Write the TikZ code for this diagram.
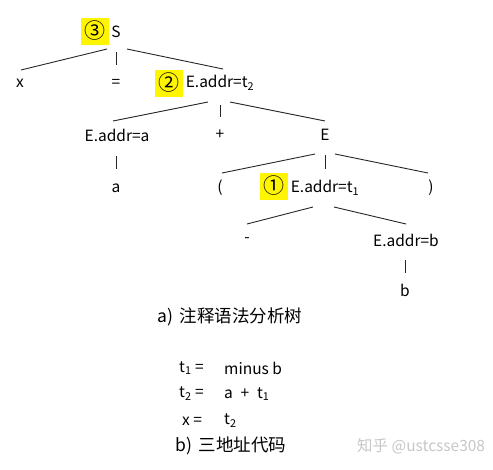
\documentclass[tikz,border=0pt]{standalone}
\usepackage{fontspec}
\setmainfont{Noto Sans CJK SC}
\usetikzlibrary{calc}
\definecolor{hlyellow}{RGB}{255,245,0}
\newcommand{\sub}[1]{\textsubscript{#1}}
\begin{document}
\begin{tikzpicture}[x=1pt,y=-1pt,
  lbl/.style={inner sep=0pt,font=\fontsize{15.5pt}{18pt}\selectfont},
  cjk/.style={inner sep=0pt,font=\fontsize{17.5pt}{20pt}\selectfont},
  hl/.style={fill=hlyellow,minimum width=28pt,minimum height=27pt,inner sep=0pt,font=\fontsize{21pt}{22pt}\selectfont},
  ln/.style={line width=0.9pt,black!85}]
\useasboundingbox (0,0) rectangle (493,469);
% tree nodes
\node[hl] (h3) at (95,31) {③};
\node[lbl] (S) at (116,32) {S};
\node[lbl] (x) at (20,83) {x};
\node[lbl] (eq) at (116,83) {=};
\node[hl] (h2) at (169,83) {②};
\node[lbl] (E2) at (220,83) {E.addr=t\sub{2}};
\node[lbl] (Ea) at (117,135) {E.addr=a};
\node[lbl] (plus) at (220,135) {+};
\node[lbl] (E) at (325,135) {E};
\node[lbl] (a) at (116,188) {a};
\node[lbl] (lp) at (220,188) {(};
\node[hl] (h1) at (274,186) {①};
\node[lbl] (E1) at (325,188) {E.addr=t\sub{1}};
\node[lbl] (rp) at (431,188) {)};
\node[lbl] (minus) at (247,240) {-};
\node[lbl] (Eb) at (406,240) {E.addr=b};
\node[lbl] (b) at (405,290) {b};
% connectors
\draw[ln] ($(S)+(-9,17)$) -- ($(x)+(1,-13)$);
\draw[ln] ($(S)+(0,20)$) -- ($(eq)+(0,-18)$);
\draw[ln] ($(S)+(11,17)$) -- ($(E2)+(3,-14)$);
\draw[ln] ($(E2)+(-12,19)$) -- ($(Ea)+(-4,-14)$);
\draw[ln] ($(E2)+(0,22)$) -- ($(plus)+(0,-18)$);
\draw[ln] ($(E2)+(10,19)$) -- ($(E)+(0,-14)$);
\draw[ln] ($(Ea)+(-1,21)$) -- ($(a)+(0,-19)$);
\draw[ln] ($(E)+(-10,19)$) -- ($(lp)+(2,-15)$);
\draw[ln] ($(E)+(0,20)$) -- ($(E1)+(0,-19)$);
\draw[ln] ($(E)+(10,19)$) -- ($(rp)+(-3,-15)$);
\draw[ln] ($(E1)+(-12,19)$) -- ($(minus)+(0,-16)$);
\draw[ln] ($(E1)+(9,19)$) -- ($(Eb)+(0,-16)$);
\draw[ln] ($(Eb)+(-1,20)$) -- ($(b)+(0,-17)$);
% captions and code
\node[cjk,anchor=west] (capa) at (157,317) {a)\, 注释语法分析树};
\node[lbl,anchor=west] (l1a) at (179,368) {t\sub{1} =};
\node[lbl,anchor=west] (l1b) at (224,368) {minus b};
\node[lbl,anchor=west] (l2a) at (179,394) {t\sub{2} =};
\node[lbl,anchor=west] (l2b) at (224,394) {a\; +\; t\sub{1}};
\node[lbl,anchor=west] (l3a) at (182,421) {x =};
\node[lbl,anchor=west] (l3b) at (224,421) {t\sub{2}};
\node[cjk,anchor=west] (capb) at (175,446) {b)\, 三地址代码};
\node[lbl,anchor=west,text=black!22] (wm) at (357,446) {知乎 @ustcsse308};
\end{tikzpicture}
\end{document}
